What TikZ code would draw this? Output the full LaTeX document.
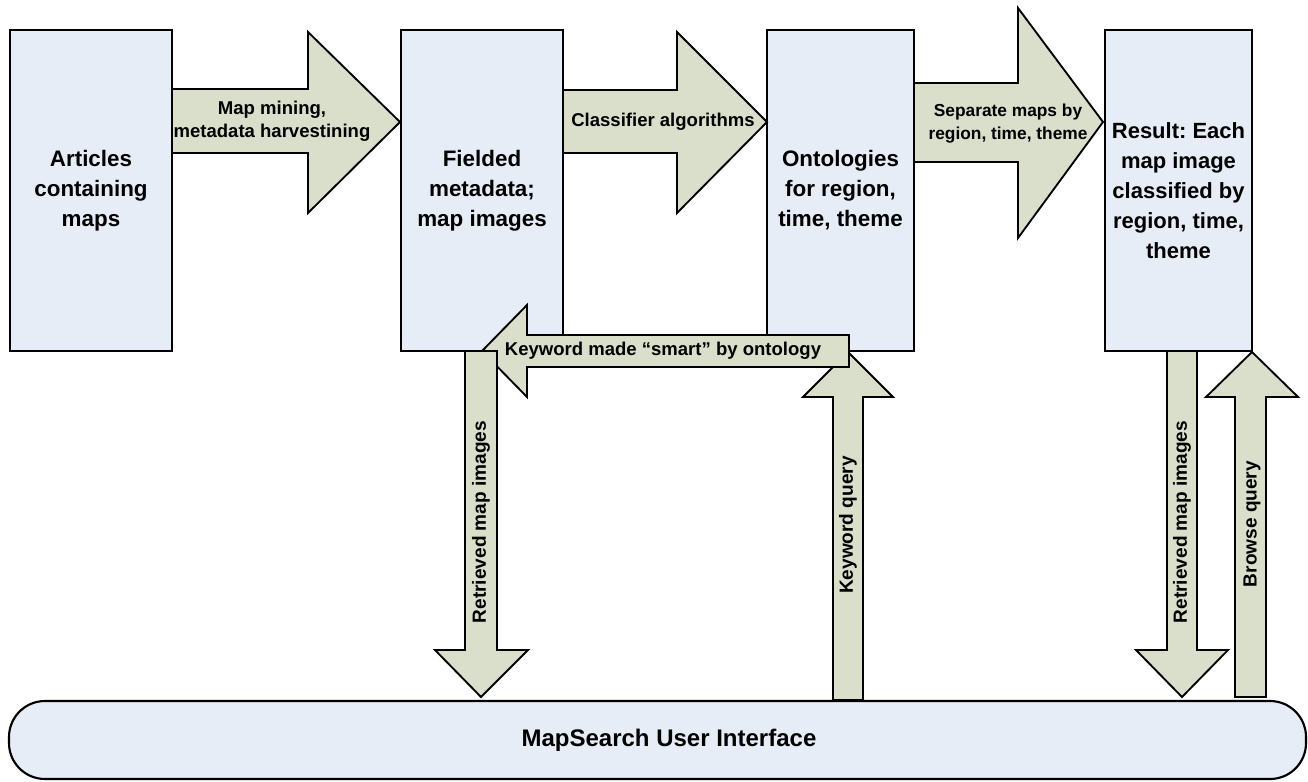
\documentclass[tikz,border=0pt]{standalone}
\usepackage{fontspec}
\setmainfont{Liberation Sans}
\definecolor{boxfill}{RGB}{231,237,247}
\definecolor{arrowfill}{RGB}{217,223,203}
\frenchspacing
\begin{document}
\begin{tikzpicture}[x=0.75pt,y=-0.75pt,
  box/.style={draw=black, line width=1.6pt, fill=boxfill, align=center, inner sep=0pt,
    font=\bfseries\fontsize{16.8}{22.5}\selectfont},
  blk/.style={draw=black, line width=1.4pt, fill=arrowfill, line join=miter},
  lbl/.style={font=\bfseries\fontsize{13.9}{17.25}\selectfont, align=center, inner sep=0pt},
  vlbl/.style={lbl, font=\bfseries\fontsize{14.3}{17.25}\selectfont, rotate=90}
]
\useasboundingbox (0,0) rectangle (1308,781);

% boxes
\node[box, minimum width=121.5pt, minimum height=240.75pt] (articles) at (91,190.5) {Articles\\containing\\maps};
\node[box, minimum width=121.5pt, minimum height=240.75pt] (fielded) at (482,190.5) {Fielded\\metadata;\\map images};
\node[box, minimum width=110.25pt, minimum height=240.75pt] (onto) at (840.5,190.5) {Ontologies\\for region,\\time, theme};
\node[box, font=\bfseries\fontsize{16.5}{22.5}\selectfont, minimum width=110.25pt, minimum height=240.75pt] (result) at (1178.5,190.5) {Result: Each\\map image\\classified by\\region, time,\\theme};

% user interface
\node[box, rounded corners=27pt, minimum width=972.75pt, minimum height=58.5pt] (ui) at (657.5,740) {};
\node[inner sep=0pt, font=\bfseries\fontsize{18}{22}\selectfont] (uitext) at (669,740) {MapSearch User Interface};

% horizontal block arrows
\draw[blk] (172,89) -- (308,89) -- (308,32) -- (400,122) -- (308,213) -- (308,153) -- (172,153) -- cycle;
\draw[blk] (563,90) -- (677,90) -- (677,32) -- (767,122) -- (677,213) -- (677,153) -- (563,153) -- cycle;
\draw[blk] (914,83) -- (1018,83) -- (1018,8) -- (1103,122) -- (1018,238) -- (1018,162) -- (914,162) -- cycle;

% keyword query (up)
\draw[blk] (833,700) -- (833,397) -- (803,397) -- (848,352) -- (893,397) -- (863,397) -- (863,700) -- cycle;
% keyword made smart (left)
\draw[blk] (849,335) -- (527,335) -- (527,305) -- (482,351) -- (527,397) -- (527,367) -- (849,367) -- cycle;
% retrieved map images (left, down)
\draw[blk] (465,351) -- (465,650) -- (435,650) -- (481,697) -- (528,650) -- (497,650) -- (497,351) -- cycle;
% retrieved map images (right, down)
\draw[blk] (1167,351) -- (1167,650) -- (1136,650) -- (1182,697) -- (1228,650) -- (1197,650) -- (1197,351) -- cycle;
% browse query (up)
\draw[blk] (1235,697) -- (1235,397) -- (1206,397) -- (1252,352) -- (1298,397) -- (1266,397) -- (1266,697) -- cycle;

% labels
\node[lbl] (l1) at (272,121) {Map mining,\\metadata harvestining};
\node[lbl] (l2) at (663,122) {Classifier algorithms};
\node[lbl, font=\bfseries\fontsize{13}{17.25}\selectfont] (l3) at (1008,124) {Separate maps by\\region, time, theme};
\node[lbl] (l4) at (663,351) {Keyword made “smart” by ontology};
\node[vlbl] (l5) at (481,522) {Retrieved map images};
\node[vlbl] (l6) at (848,525) {Keyword query};
\node[vlbl] (l7) at (1182,522) {Retrieved map images};
\node[vlbl] (l8) at (1252,524) {Browse query};
\end{tikzpicture}
\end{document}
